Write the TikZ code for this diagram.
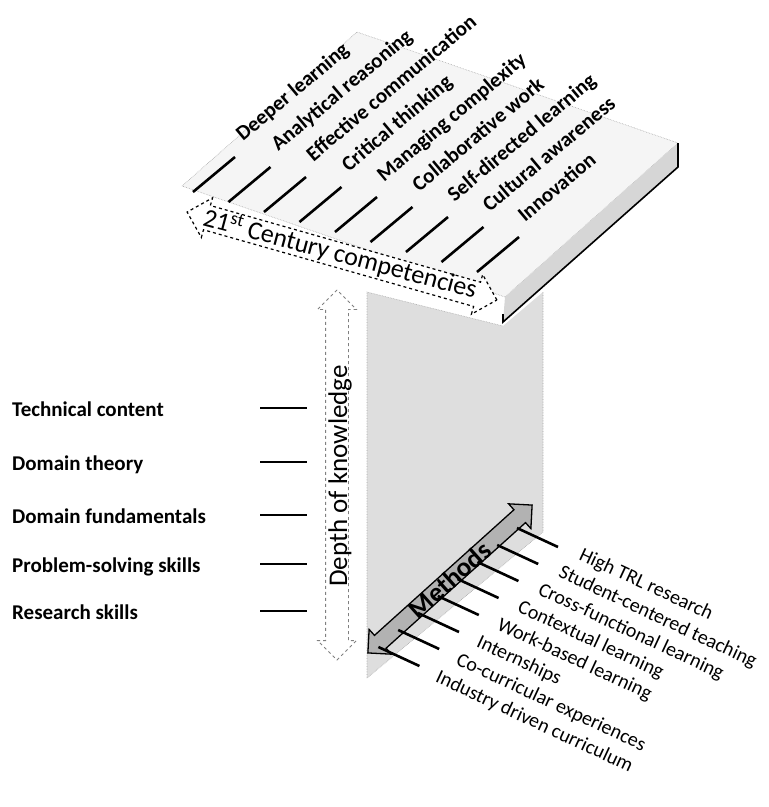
\documentclass[tikz,border=0pt]{standalone}
\usepackage{fontspec}
\setmainfont{Carlito}
\usetikzlibrary{shapes.arrows}

\newcommand{\itemfont}{\fontsize{21}{24}\selectfont}

\tikzset{
	compitem/.style={anchor=base west, rotate=40, inner sep=0pt, font=\bfseries\itemfont},
	methitem/.style={anchor=base west, rotate=-25, inner sep=0pt, font=\fontsize{20}{24}\selectfont},
	knowitem/.style={anchor=base west, inner sep=0pt, font=\bfseries\itemfont},
	tick/.style={line width=2.6pt},
	knowtick/.style={line width=1.4pt},
	axis/.style={double arrow, inner xsep=0pt, double arrow head extend=8pt},
	plane/.style={draw=gray!70, densely dotted, line width=0.6pt}
}

\begin{document}
\begin{tikzpicture}[x=1pt,y=-1pt]
	\useasboundingbox (0,0) rectangle (769,807);

	\fill[black!13] (367,292) -- (503,326) -- (543,292) -- (543,532) -- (367,678) -- cycle;
	\draw[plane] (367,678) -- (367,292) -- (503,326);
	\draw[plane] (543,292) -- (543,532) -- (367,678);

	\filldraw[plane, fill=black!4] (182,186) -- (357,32) -- (678,143) -- (505,297) -- cycle;
	\fill[black!16] (505,297) -- (678,143) -- (678,167) -- (503,322) -- cycle;
	\draw[line width=1.6pt] (503,314) -- (503,322) -- (678,167) -- (678,143);

	\node (compaxis) [axis, draw, dashed, line width=1.2pt, fill=white, rotate=-15.85,
		minimum height=322pt, minimum width=40pt, inner ysep=12pt] at (342,256) {};
	\node (depthaxis) [axis, draw=gray, dashed, line width=0.8pt, rotate=90,
		minimum height=370pt, minimum width=38pt, inner ysep=11pt] at (337,475) {};
	\node (methaxis) [axis, draw, fill=gray!60, line width=1.3pt, rotate=42,
		minimum height=221pt, minimum width=32pt, inner ysep=8pt] at (450,579) {};

	\node (comptitle) [rotate=-15, anchor=base, inner sep=0pt, font=\fontsize{26}{30}\selectfont]
		at (338,262) {21\textsuperscript{st} Century competencies};
	\node (depthtitle) [rotate=90, anchor=base, inner sep=0pt, font=\fontsize{27}{30}\selectfont]
		at (347,476) {Depth of knowledge};
	\node (methtitle) [rotate=42, anchor=base, inner sep=0pt, font=\bfseries\fontsize{27}{30}\selectfont]
		at (456,587) {Methods};

	\foreach \t [count=\i from 0] in {Deeper learning, Analytical reasoning, Effective communication,
		Critical thinking, Managing complexity, Collaborative work, Self-directed learning,
		Cultural awareness, Innovation}
	{
		\draw[tick] ({193+35.5*\i},{192+10*\i}) -- ++(42,-35);
		\node (comp\i) [compitem] at ({243+35.25*\i},{142+10.1*\i}) {\t};
	}

	\foreach \t [count=\i from 0] in {High TRL research, Student-centered teaching,
		Cross-functional learning, Contextual learning, Work-based learning, Internships,
		Co-curricular experiences, Industry driven curriculum}
	{
		\draw[tick] ({517-19.8*\i},{528+17*\i}) -- ++(41,19);
		\node (meth\i) [methitem] at ({578-20.5*\i},{559+17.5*\i}) {\t};
	}

	\foreach \t/\y [count=\i] in {Technical content/408, Domain theory/462, Domain fundamentals/515,
		Problem-solving skills/564, Research skills/611}
	{
		\draw[knowtick] (260,\y) -- (307,\y);
		\node (know\i) [knowitem] at (12,\y+8) {\t};
	}
\end{tikzpicture}
\end{document}
